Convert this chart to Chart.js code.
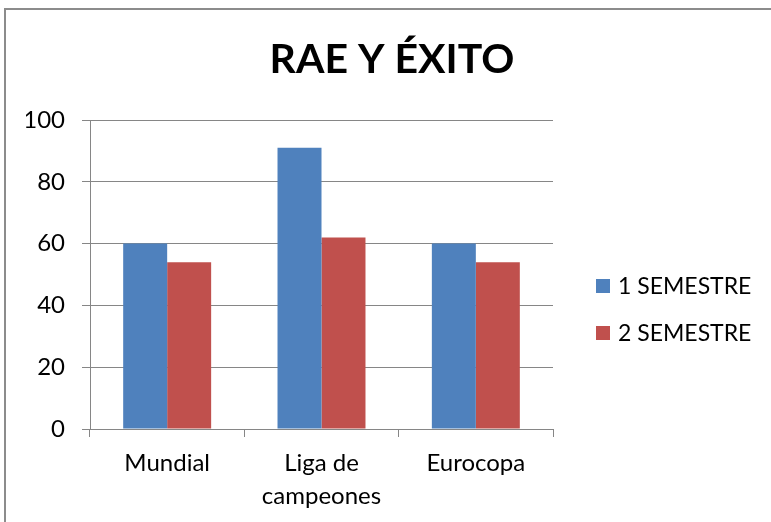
<!DOCTYPE html>
<html>
<head>
<meta charset="utf-8">
<script src="https://cdn.jsdelivr.net/npm/chart.js@4.4.1/dist/chart.umd.min.js"></script>
<style>
  body { margin: 0; background: #fff; }
  #frame { position: absolute; left: 4px; top: 8px; width: 800px; height: 560px; border: 2px solid #8c8c8c; }
  #wrap { position: absolute; left: 0; top: 0; width: 771px; height: 522px; }
</style>
</head>
<body>
<div id="frame"></div>
<div id="wrap"><canvas id="chart" width="771" height="522"></canvas></div>
<script>
const categories = [["Mundial"], ["Liga de", "campeones"], ["Eurocopa"]];
const semestre1 = [60, 91, 60];
const semestre2 = [54, 62, 54];
const seriesNames = ["1 SEMESTRE", "2 SEMESTRE"];
const yTicks = [0, 20, 40, 60, 80, 100];

const FONT = "Lato, 'Open Sans', sans-serif";
const gridColor = "#868686";

// legend drawn at the right like the office chart
const sideLegend = {
  id: "sideLegend",
  afterDraw(chart) {
    const ctx = chart.ctx;
    ctx.save();
    ctx.font = "23px " + FONT;
    ctx.textBaseline = "middle";
    chart.data.datasets.forEach((ds, i) => {
      const cy = 286 + i * 47;
      ctx.fillStyle = ds.backgroundColor;
      ctx.fillRect(596, cy - 7, 14, 14);
      ctx.fillStyle = "#000";
      ctx.fillText(ds.label, 618, cy + 1);
    });
    ctx.restore();
  },
};

const ctx = document.getElementById("chart").getContext("2d");

new Chart(ctx, {
  type: "bar",
  data: {
    labels: categories,
    datasets: [
      {
        label: seriesNames[0],
        data: semestre1,
        backgroundColor: "#4F81BD",
        categoryPercentage: 0.57,
        barPercentage: 1,
      },
      {
        label: seriesNames[1],
        data: semestre2,
        backgroundColor: "#C0504D",
        categoryPercentage: 0.57,
        barPercentage: 1,
      },
    ],
  },
  options: {
    responsive: false,
    animation: false,
    layout: {
      padding: { left: 26, right: 13, top: 0, bottom: 0 },
    },
    scales: {
      x: {
        grid: {
          display: true,
          drawOnChartArea: false,
          color: gridColor,
          tickLength: 8,
          offset: true,
        },
        border: { color: gridColor, width: 1 },
        ticks: {
          color: "#000",
          padding: 9,
          font: { family: FONT, size: 24, lineHeight: 1.4 },
        },
        afterFit: (scale) => {
          scale.paddingRight = 218;
          scale.paddingLeft = 0;
          scale.height = 93;
        },
      },
      y: {
        min: 0,
        max: 100,
        afterBuildTicks: (scale) => {
          scale.ticks = yTicks.map((v) => ({ value: v }));
        },
        grid: { color: gridColor, tickLength: 8 },
        border: { color: gridColor, width: 1 },
        ticks: {
          color: "#000",
          padding: 17,
          font: { family: FONT, size: 24 },
        },
        afterFit: (scale) => {
          scale.width = 64;
        },
      },
    },
    plugins: {
      legend: { display: false },
      tooltip: { enabled: false },
      title: {
        display: true,
        text: "RAE Y ÉXITO",
        color: "#000",
        font: { family: FONT, size: 41, weight: "bold", lineHeight: 1.2 },
        padding: { top: 35, bottom: 35.8 },
      },
    },
  },
  plugins: [sideLegend],
});
</script>
</body>
</html>
